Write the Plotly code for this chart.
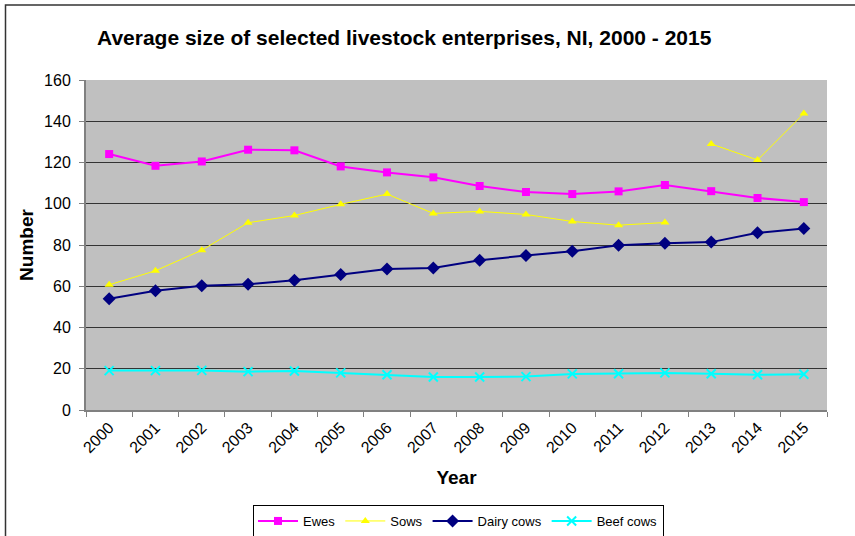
import plotly.graph_objects as go

years = ["2000", "2001", "2002", "2003", "2004", "2005", "2006", "2007",
         "2008", "2009", "2010", "2011", "2012", "2013", "2014", "2015"]
ewes = [124.1, 118.4, 120.5, 126.2, 125.9, 118.1, 115.2, 112.8,
        108.6, 105.7, 104.7, 106.0, 109.1, 106.1, 102.8, 100.8]
sows = [60.7, 67.5, 77.5, 90.8, 94.3, 99.7, 104.7, 95.3,
        96.3, 94.8, 91.4, 89.6, 90.9, 129.0, 121.2, 143.7]
sows_break = 13  # series is not joined between 2012 and 2013
dairy = [53.9, 57.8, 60.2, 61.0, 62.9, 65.7, 68.4, 68.8,
         72.6, 74.9, 77.0, 79.9, 80.9, 81.4, 85.9, 88.0]
beef = [19.1, 19.1, 19.2, 18.6, 18.9, 18.0, 17.1, 16.0,
        16.0, 16.2, 17.5, 17.6, 18.0, 17.6, 17.1, 17.3]

FONT = "Liberation Sans, Arial, sans-serif"

fig = go.Figure()
fig.add_trace(go.Scatter(x=years, y=ewes, name="Ewes", mode="lines+markers",
                         line=dict(color="#FF00FF", width=2),
                         marker=dict(symbol="square", size=8, color="#FF00FF")))
fig.add_trace(go.Scatter(x=years[:sows_break], y=sows[:sows_break], name="Sows",
                         mode="lines+markers", legendgroup="sows",
                         line=dict(color="#FFFF00", width=1),
                         marker=dict(symbol="triangle-up", size=8, color="#FFFF00")))
fig.add_trace(go.Scatter(x=years[sows_break:], y=sows[sows_break:], name="Sows",
                         mode="lines+markers", legendgroup="sows", showlegend=False,
                         line=dict(color="#FFFF00", width=1),
                         marker=dict(symbol="triangle-up", size=8, color="#FFFF00")))
fig.add_trace(go.Scatter(x=years, y=dairy, name="Dairy cows", mode="lines+markers",
                         line=dict(color="#000080", width=2),
                         marker=dict(symbol="diamond", size=10, color="#000080")))
fig.add_trace(go.Scatter(x=years, y=beef, name="Beef cows", mode="lines+markers",
                         line=dict(color="#00FFFF", width=2),
                         marker=dict(symbol="x-thin", size=9,
                                     line=dict(color="#00FFFF", width=2))))

L, R, T, B = 86, 28, 80, 126
W, H = 855, 536
pw, ph = W - L - R, H - T - B

def px_x(p):
    return (p - L) / pw

def px_y(p):
    return (H - B - p) / ph

fig.update_layout(
    width=W, height=H,
    margin=dict(l=L, r=R, t=T, b=B, autoexpand=False),
    paper_bgcolor="white",
    plot_bgcolor="#C0C0C0",
    font=dict(family=FONT, color="black"),
    title=dict(text="<b>Average size of selected livestock enterprises, NI, 2000 - 2015</b>",
               x=px_x(97), xref="paper", xanchor="left",
               y=1 - 38 / H, yanchor="middle",
               font=dict(size=21, family=FONT, color="black")),
    showlegend=True,
    legend=dict(orientation="h", x=px_x(458.5), xanchor="center",
                y=px_y(505), yanchor="top",
                bordercolor="black", borderwidth=1, bgcolor="white",
                itemwidth=40,
                font=dict(size=13, family=FONT)),
    xaxis=dict(type="category", categoryorder="array", categoryarray=years,
               range=[-0.5, len(years) - 0.5], autorange=False,
               tickson="boundaries", ticks="outside", ticklen=5, tickcolor="#808080",
               showline=True, linecolor="#808080", linewidth=2,
               showgrid=False, tickangle=-45,
               tickfont=dict(size=16, family=FONT),
               title=dict(text="<b>Year</b>", font=dict(size=19, family=FONT), standoff=16)),
    yaxis=dict(range=[0, 160], dtick=20, ticks="outside", ticklen=5, tickcolor="#808080",
               showline=True, linecolor="#808080", linewidth=2,
               showgrid=True, gridcolor="#333333", gridwidth=1,
               zeroline=False, ticklabelstandoff=5,
               tickfont=dict(size=16, family=FONT),
               title=dict(text="<b>Number</b>", font=dict(size=19, family=FONT), standoff=5)),
)

fig.add_shape(type="rect", xref="paper", yref="paper",
              x0=px_x(5.5), x1=px_x(870), y0=px_y(550), y1=px_y(5),
              line=dict(color="#333333", width=1.5), fillcolor="rgba(0,0,0,0)",
              layer="below")

fig.write_html("out.html", config={"displayModeBar": False},
               post_script="document.body.style.margin='0';document.body.style.overflow='hidden';")
